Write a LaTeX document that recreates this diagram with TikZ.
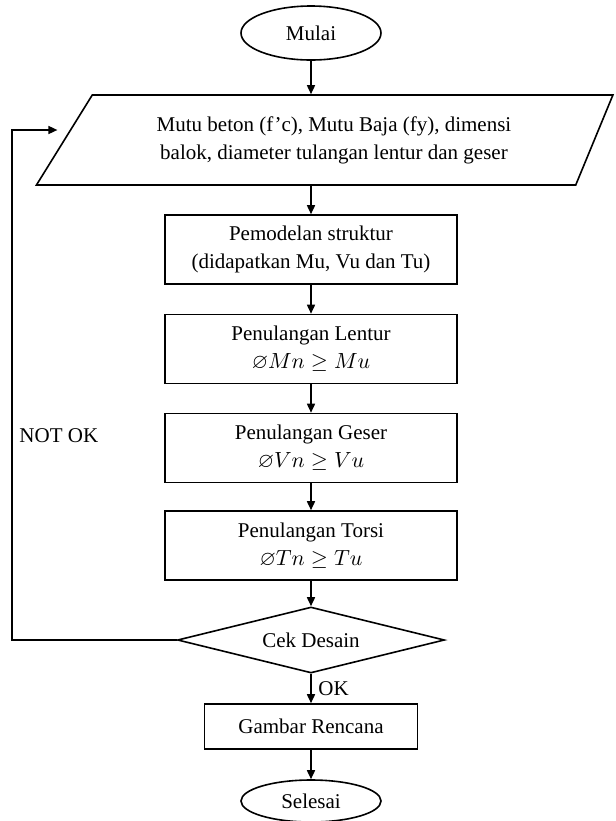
\documentclass[tikz,border=0pt]{standalone}
\usepackage{amssymb}
\usepackage{fontspec}
\setmainfont{Liberation Serif}
\usepackage{tikz}
\usetikzlibrary{arrows.meta,shapes.geometric}

\begin{document}
\begin{tikzpicture}[
  x=0.5pt,y=-0.5pt,
  every node/.style={font=\fontsize{10.5}{14}\selectfont},
  term/.style={ellipse,draw=black,line width=0.8pt,minimum width=70pt,minimum height=27pt,inner sep=0pt},
  proc/.style={rectangle,draw=black,line width=0.8pt,minimum width=146pt,minimum height=34.5pt,align=center},
  io/.style={trapezium,trapezium left angle=55,trapezium right angle=115,trapezium stretches=true,draw=black,line width=0.8pt,minimum width=289pt,minimum height=45pt,align=center},
  dec/.style={diamond,aspect=4,draw=black,line width=0.8pt,minimum width=133.5pt,minimum height=33pt,inner sep=0pt},
  arr/.style={-{Triangle[length=4.5pt,width=4pt]},line width=0.8pt}
]
\useasboundingbox (0,0) rectangle (616,821);

\node[term] (mulai) at (311,33) {Mulai};
\node[io] (input) at (334,140) {Mutu beton (f'c), Mutu Baja (fy), dimensi\\balok, diameter tulangan lentur dan geser};
\node[proc] (model) at (311,249.5) {Pemodelan struktur\\(didapatkan Mu, Vu dan Tu)};
\node[proc] (lentur) at (311,349) {Penulangan Lentur\\$\varnothing Mn \geq Mu$};
\node[proc] (geser) at (311,448) {Penulangan Geser\\$\varnothing Vn \geq Vu$};
\node[proc] (torsi) at (311,545.5) {Penulangan Torsi\\$\varnothing Tn \geq Tu$};
\node[dec] (cek) at (311,640) {Cek Desain};
\node[proc,minimum width=106.5pt,minimum height=22.5pt] (gambar) at (311,726.5) {Gambar Rencana};
\node[term,minimum height=21pt] (selesai) at (311,801) {Selesai};

\coordinate (back) at (12,640);

\draw[arr] (mulai) -- (mulai |- input.north);
\draw[arr] (input.south -| model) -- (model);
\draw[arr] (model) -- (lentur);
\draw[arr] (lentur) -- (geser);
\draw[arr] (geser) -- (torsi);
\draw[arr] (torsi) -- (cek);
\draw[arr] (cek) -- node[right]{OK} (gambar);
\draw[arr] (gambar) -- (selesai);
\draw[arr] (cek.west) -- (back) |- node[pos=0.2,right]{NOT OK} ([shift={(-3pt,5pt)}]input.west);
\end{tikzpicture}
\end{document}
